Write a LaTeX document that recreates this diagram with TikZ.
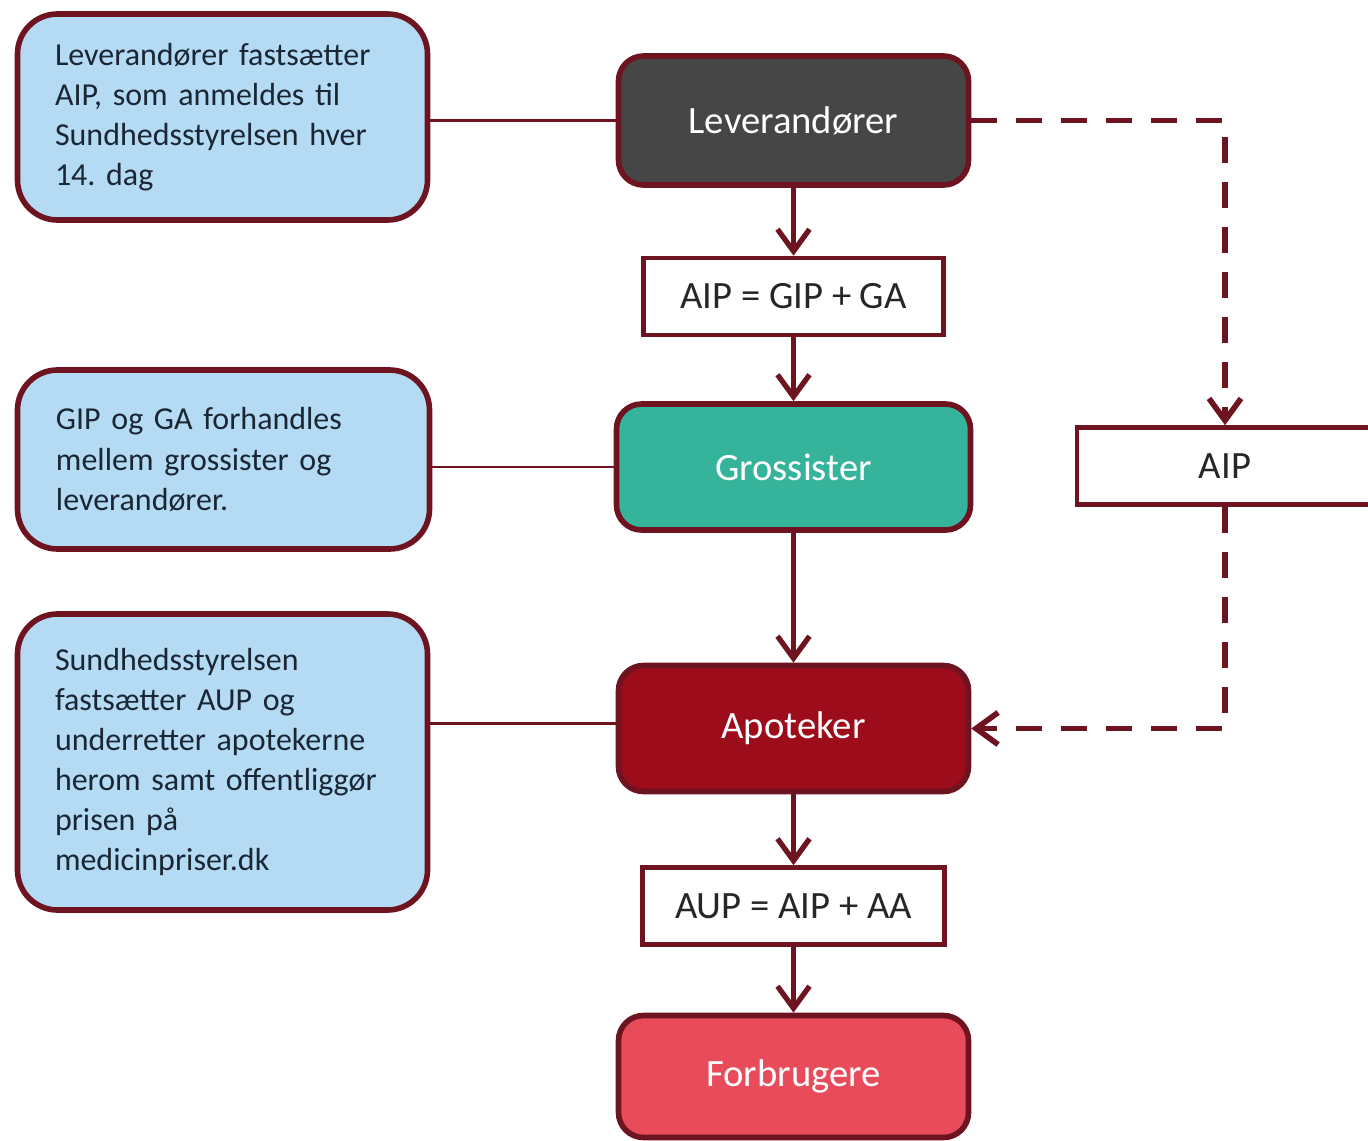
\documentclass[tikz,border=0pt]{standalone}
\usepackage{fontspec}
\setmainfont{Carlito}
\frenchspacing
\usetikzlibrary{arrows.meta,positioning}
\definecolor{rand}{HTML}{6E1420}
\definecolor{lysblaa}{HTML}{B5DBF4}
\definecolor{notetekst}{HTML}{1A2633}
\definecolor{moerkgraa}{HTML}{464646}
\definecolor{groen}{HTML}{35B39B}
\definecolor{vinrod}{HTML}{9C0C1B}
\definecolor{lysrod}{HTML}{E84B5A}
\tikzset{
        actor/.style = {draw=rand, line width=1.6pt, rounded corners=2.5mm,
            minimum width=3.5cm,
            minimum height=1.26cm,
            text=white, font=\fontsize{11}{13}\selectfont},
        formel/.style = {draw=rand, line width=1.3pt, fill=white,
            minimum width=3.0cm,
            minimum height=0.77cm,
            text=black!85, font=\fontsize{11}{13}\selectfont},
        note/.style = {draw=rand, line width=1.6pt, fill=lysblaa, rounded corners=4mm,
            minimum width=4.1cm, text width=3.35cm, align=left,
            text=notetekst, font=\fontsize{9.1}{11.4}\selectfont},
        flow/.style = {draw=rand, line width=1.5pt, -{Straight Barb[length=2.2mm,width=3.2mm]}},
        dashflow/.style = {flow, line width=1.6pt, dash pattern=on 2.6mm off 1.9mm},
        link/.style = {draw=rand, line width=0.8pt},
    }

\begin{document}
\begin{tikzpicture}[on grid]
    \useasboundingbox (0,0) rectangle (13.68,-11.40);

    % kaeden i midten
    \node[actor, fill=moerkgraa, minimum height=1.29cm] at (7.935,-1.205) (lev) {Leverandører};
    \node[formel, below=1.76cm of lev] (aipgip) {AIP = GIP + GA};
    \node[actor, fill=groen, minimum width=3.54cm, below=1.705cm of aipgip] (gro) {Grossister};
    \node[actor, fill=vinrod, below=2.615cm of gro] (apo) {Apoteker};
    \node[formel, minimum width=3.02cm, below=1.775cm of apo] (aupaip) {AUP = AIP + AA};
    \node[actor, fill=lysrod, minimum height=1.22cm, below=1.705cm of aupaip] (forb) {Forbrugere};

    % AIP til hoejre
    \node[formel, minimum width=2.96cm] at (12.25,-4.66) (aip) {AIP};

    % forklaringer
    \node[note, minimum height=2.06cm] at (2.225,-1.17) (n1)
        {Leverandører fastsætter\\AIP, som anmeldes til\\Sundhedsstyrelsen hver\\14. dag};
    \node[note, minimum width=4.12cm, minimum height=1.79cm] at (2.235,-4.595) (n2)
        {GIP og GA forhandles\\mellem grossister og\\leverandører.};
    \node[note, minimum height=2.96cm] at (2.225,-7.62) (n3)
        {Sundhedsstyrelsen\\fastsætter AUP og\\underretter apotekerne\\herom samt offentliggør\\prisen på\\medicinpriser.dk};

    \draw[link] (lev.west) -- (lev.west -| n1.east);
    \draw[link] (gro.west) -- (gro.west -| n2.east);
    \draw[link] ([yshift=0.5mm]apo.west) -- ([yshift=0.5mm]apo.west -| n3.east);

    \draw[flow] (lev) -- (aipgip);
    \draw[flow] (aipgip) -- (gro);
    \draw[flow] (gro) -- (apo);
    \draw[flow] (apo) -- (aupaip);
    \draw[flow] (aupaip) -- (forb);

    \draw[dashflow] (lev.east) -| (aip.north);
    \draw[dashflow] (aip.south) |- (apo.east);
\end{tikzpicture}
\end{document}
